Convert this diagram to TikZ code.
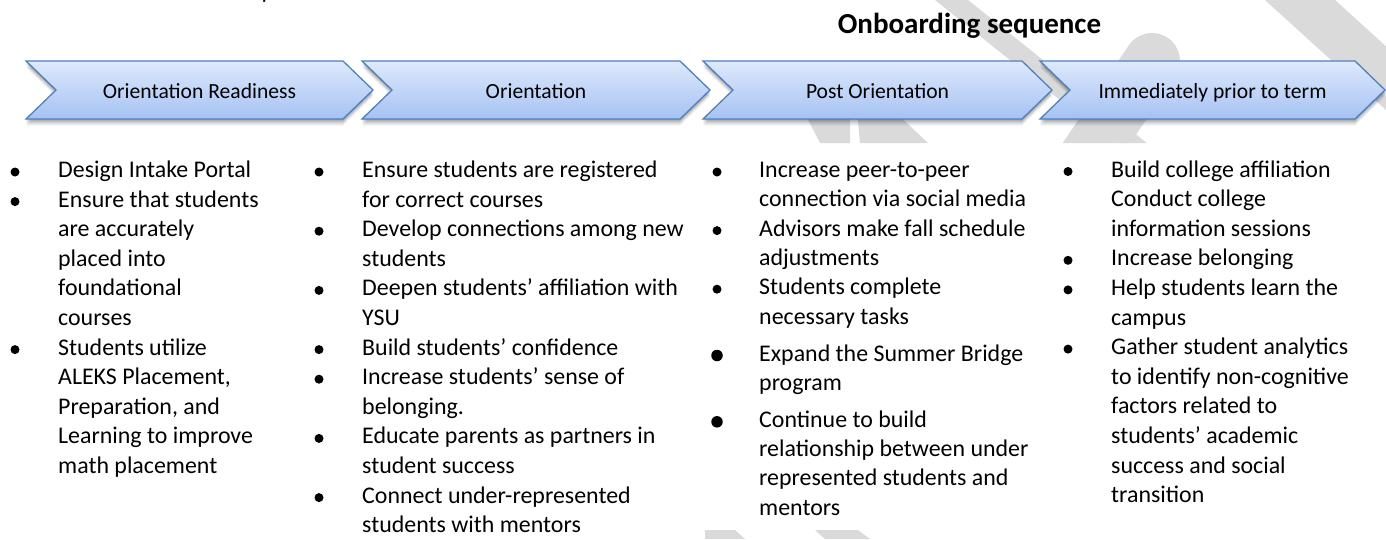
\documentclass[tikz,border=0pt]{standalone}
\usepackage{fontspec}
\setmainfont{Carlito}
\definecolor{chevtop}{HTML}{DEE9FC}
\definecolor{chevbot}{HTML}{A5C2F3}
\definecolor{chevline}{HTML}{4F81BD}
\definecolor{wmgray}{HTML}{DADADA}
\newcommand\itemlines[1]{\parbox[t]{420pt}{\raggedright #1}}
\begin{document}
\begin{tikzpicture}[x=1pt,y=-1pt,
  dot/.style={circle,fill=black,inner sep=0pt,minimum size=9pt},
  bigdot/.style={circle,fill=black,inner sep=0pt,minimum size=11.5pt},
  itemtext/.style={inner sep=0pt,anchor=base west,font=\fontsize{23.9}{29.6}\selectfont},
  itemtextc/.style={inner sep=0pt,anchor=base west,font=\fontsize{23.9}{29.3}\selectfont},
  chevlabel/.style={inner sep=0pt,anchor=base,font=\fontsize{21.6}{26}\selectfont},
  titletext/.style={inner sep=0pt,anchor=base,font=\fontsize{29}{34}\selectfont\bfseries},
  chevbox/.style={top color=chevtop,bottom color=chevbot,draw=chevline,line width=1.3pt,line join=miter},
  wm/.style={fill=wmgray}]
\useasboundingbox (0,0) rectangle (1386,539);
\fill[white] (0,0) rectangle (1386,539);

% watermark (visible only above and below the text block)
\begin{scope}
\clip (0,0) rectangle (1386,143) (0,530) rectangle (1386,539);
\fill[wm] (935,0) -- (968,0) -- ({968+1.25*200},200) -- ({935+1.25*200},200) -- cycle;
\fill[wm] (1265,0) -- (1335,0) -- ({1335+1.1*150},150) -- ({1265+1.1*150},150) -- cycle;
\draw[wmgray, line width=56pt, line cap=round] (1152,61) -- (1085,160);
\fill[wm] (803,110) -- (850,110) -- (850,143) -- (820,143) -- cycle;
\fill[wm] (857,110) -- (893,110) -- (928,143) -- (860,143) -- cycle;
\fill[wm] (705,530) -- (735,530) -- (745,539) -- (705,539) -- cycle;
\fill[wm] (815,530) -- (858,530) -- (870,539) -- (825,539) -- cycle;
\end{scope}

% chevrons
\foreach \l/\r in {26/373, 362/710, 703/1052, 1040/1385} {
  \foreach \s/\o in {1/0.09,2/0.08,3/0.07,4/0.06,5/0.05,6/0.04,7/0.03} {
    \fill[black,opacity=\o] (\l,61+\s) -- ({\r-30},61+\s) -- (\r,90+\s) -- ({\r-30},119+\s) -- (\l,119+\s) -- ({\l+30},90+\s) -- cycle;
  }
  \path[chevbox] (\l,61) -- ({\r-30},61) -- (\r,90) -- ({\r-30},119) -- (\l,119) -- ({\l+30},90) -- cycle;
}
\node[chevlabel] (c1) at (199.5,98) {Orientation Readiness};
\node[chevlabel] (c2) at (536,98) {Orientation};
\node[chevlabel] (c3) at (877.5,98) {Post Orientation};
\node[chevlabel] (c4) at (1212.5,98) {Immediately prior to term};

\node[titletext] (title) at (969.5,33) {Onboarding sequence};
\node[itemtext] (frag) at (261.5,-2) {p};

% column 1
\node[dot] (da1) at (15,172) {};
\node[itemtext] (a1) at (58,177.5) {\itemlines{Design Intake Portal}};
\node[dot] (da2) at (15,201.6) {};
\node[itemtext] (a2) at (58,207.1) {\itemlines{Ensure that students\\are accurately\\placed into\\foundational\\courses}};
\node[dot] (da3) at (15,349.6) {};
\node[itemtext] (a3) at (58,355.1) {\itemlines{Students utilize\\ALEKS Placement,\\Preparation, and\\Learning to improve\\math placement}};

% column 2
\node[dot] (db1) at (319,172) {};
\node[itemtext] (b1) at (362,177.5) {\itemlines{Ensure students are registered\\for correct courses}};
\node[dot] (db2) at (319,231.2) {};
\node[itemtext] (b2) at (362,236.7) {\itemlines{Develop connections among new\\students}};
\node[dot] (db3) at (319,290.4) {};
\node[itemtext] (b3) at (362,295.9) {\itemlines{Deepen students’ affiliation with\\YSU}};
\node[dot] (db4) at (319,349.6) {};
\node[itemtext] (b4) at (362,355.1) {\itemlines{Build students’ confidence}};
\node[dot] (db5) at (319,379.2) {};
\node[itemtext] (b5) at (362,384.7) {\itemlines{Increase students’ sense of\\belonging.}};
\node[dot] (db6) at (319,438.4) {};
\node[itemtext] (b6) at (362,443.9) {\itemlines{Educate parents as partners in\\student success}};
\node[dot] (db7) at (319,497.6) {};
\node[itemtext] (b7) at (362,503.1) {\itemlines{Connect under-represented\\students with mentors}};

% column 3
\node[dot] (dc1) at (717,172) {};
\node[itemtextc] (c31) at (759,177.5) {\itemlines{Increase peer-to-peer\\connection via social media}};
\node[dot] (dc2) at (717,230.6) {};
\node[itemtextc] (c32) at (759,236.1) {\itemlines{Advisors make fall schedule\\adjustments}};
\node[dot] (dc3) at (717,289.2) {};
\node[itemtextc] (c33) at (759,294.7) {\itemlines{Students complete\\necessary tasks}};
\node[bigdot] (dc4) at (717,355.5) {};
\node[itemtextc] (c34) at (759,361) {\itemlines{Expand the Summer Bridge\\program}};
\node[bigdot] (dc5) at (717,421.8) {};
\node[itemtextc] (c35) at (759,427.3) {\itemlines{Continue to build\\relationship between under\\represented students and\\mentors}};

% column 4
\node[dot] (dd1) at (1068,171.5) {};
\node[itemtext] (d1) at (1111,177) {\itemlines{Build college affiliation\\Conduct college\\information sessions}};
\node[dot] (dd2) at (1068,260.3) {};
\node[itemtext] (d2) at (1111,265.8) {\itemlines{Increase belonging}};
\node[dot] (dd3) at (1068,289.9) {};
\node[itemtext] (d3) at (1111,295.4) {\itemlines{Help students learn the\\campus}};
\node[dot] (dd4) at (1068,349.1) {};
\node[itemtext] (d4) at (1111,354.6) {\itemlines{Gather student analytics\\to identify non-cognitive\\factors related to\\students’ academic\\success and social\\transition}};
\end{tikzpicture}
\end{document}
